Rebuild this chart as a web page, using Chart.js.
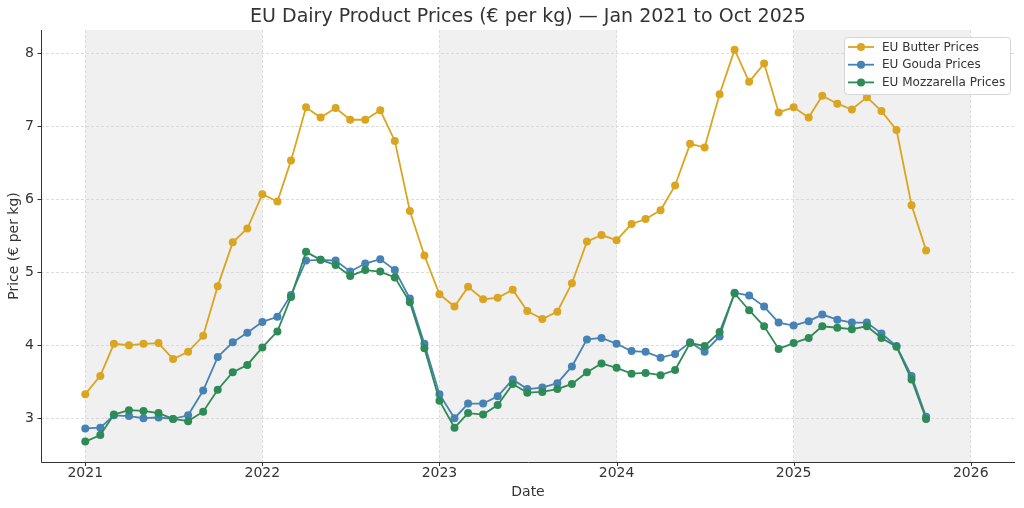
<!DOCTYPE html>
<html>
<head>
<meta charset="utf-8">
<script src="https://cdn.jsdelivr.net/npm/chart.js@4.4.1/dist/chart.umd.min.js"></script>
<style>
  html, body { margin: 0; padding: 0; background: #fff; }
  #wrap { width: 1024px; height: 508px; }
</style>
</head>
<body>
<div id="wrap"><canvas id="precios"></canvas></div>
<script>
// Meses (Jan 2021 .. Oct 2025)
const meses = [
  '2021-01','2021-02','2021-03','2021-04','2021-05','2021-06','2021-07','2021-08','2021-09','2021-10','2021-11','2021-12',
  '2022-01','2022-02','2022-03','2022-04','2022-05','2022-06','2022-07','2022-08','2022-09','2022-10','2022-11','2022-12',
  '2023-01','2023-02','2023-03','2023-04','2023-05','2023-06','2023-07','2023-08','2023-09','2023-10','2023-11','2023-12',
  '2024-01','2024-02','2024-03','2024-04','2024-05','2024-06','2024-07','2024-08','2024-09','2024-10','2024-11','2024-12',
  '2025-01','2025-02','2025-03','2025-04','2025-05','2025-06','2025-07','2025-08','2025-09','2025-10'
];

const butter = [
  3.33, 3.58, 4.02, 4.00, 4.02, 4.03, 3.81, 3.91, 4.13, 4.81, 5.41, 5.60,
  6.07, 5.97, 6.53, 7.26, 7.12, 7.25, 7.09, 7.09, 7.22, 6.80, 5.84, 5.23,
  4.70, 4.53, 4.80, 4.63, 4.65, 4.76, 4.47, 4.36, 4.46, 4.85, 5.42, 5.51,
  5.44, 5.66, 5.73, 5.85, 6.19, 6.76, 6.71, 7.44, 8.05, 7.61, 7.86, 7.19,
  7.26, 7.12, 7.42, 7.31, 7.23, 7.40, 7.21, 6.95, 5.92, 5.30
];
const gouda = [
  2.86, 2.87, 3.04, 3.03, 3.00, 3.01, 2.99, 3.04, 3.38, 3.84, 4.04, 4.17,
  4.32, 4.39, 4.69, 5.16, 5.17, 5.16, 5.01, 5.12, 5.18, 5.03, 4.64, 4.02,
  3.33, 3.00, 3.20, 3.20, 3.30, 3.53, 3.40, 3.42, 3.48, 3.71, 4.08, 4.10,
  4.02, 3.92, 3.91, 3.83, 3.88, 4.04, 3.91, 4.12, 4.72, 4.68, 4.53, 4.31,
  4.27, 4.33, 4.42, 4.35, 4.31, 4.31, 4.16, 3.99, 3.58, 3.02
];
const mozzarella = [
  2.68, 2.77, 3.05, 3.11, 3.10, 3.07, 2.99, 2.96, 3.09, 3.39, 3.63, 3.73,
  3.97, 4.19, 4.66, 5.28, 5.17, 5.10, 4.95, 5.03, 5.01, 4.93, 4.59, 3.96,
  3.24, 2.87, 3.07, 3.05, 3.18, 3.47, 3.35, 3.36, 3.40, 3.47, 3.63, 3.75,
  3.69, 3.61, 3.62, 3.59, 3.66, 4.03, 3.99, 4.18, 4.71, 4.48, 4.26, 3.95,
  4.03, 4.10, 4.26, 4.24, 4.22, 4.26, 4.10, 3.98, 3.53, 2.99
];

const yTicks = [3, 4, 5, 6, 7, 8];
const xTicks = [2021, 2022, 2023, 2024, 2025, 2026];
const bandasAnios = [2021, 2023, 2025];

const series = [
  { label: 'EU Butter Prices', data: butter, color: '#DAA520' },
  { label: 'EU Gouda Prices', data: gouda, color: '#4682B4' },
  { label: 'EU Mozzarella Prices', data: mozzarella, color: '#2E8B57' }
];

const FONT = "'DejaVu Sans', sans-serif";
const INK = '#333333';

// 'YYYY-MM' -> año decimal (como fechas de matplotlib)
function aAnio(s) {
  const [y, m] = s.split('-').map(Number);
  const ini = Date.UTC(y, 0, 1), fin = Date.UTC(y + 1, 0, 1);
  return y + (Date.UTC(y, m - 1, 1) - ini) / (fin - ini);
}

// Bandas grises, ejes, marcas y leyenda
const decoracion = {
  id: 'decoracion',
  beforeDraw(chart) {
    const { ctx, chartArea: a, scales: { x } } = chart;
    ctx.save();
    ctx.fillStyle = '#f0f0f0';
    bandasAnios.forEach(y0 => {
      const x0 = x.getPixelForValue(y0), x1 = x.getPixelForValue(y0 + 1);
      ctx.fillRect(x0, a.top, x1 - x0, a.bottom - a.top);
    });
    ctx.restore();
  },
  afterDraw(chart) {
    const { ctx, chartArea: a, scales: { x, y } } = chart;
    ctx.save();
    // titulo
    ctx.fillStyle = INK;
    ctx.font = '19px ' + FONT;
    ctx.textAlign = 'center';
    ctx.textBaseline = 'middle';
    ctx.fillText('EU Dairy Product Prices (€ per kg) — Jan 2021 to Oct 2025', (a.left + a.right) / 2, 17);

    // ejes
    ctx.strokeStyle = '#333';
    ctx.lineWidth = 1;
    ctx.beginPath();
    ctx.moveTo(a.left + 0.5, a.top);
    ctx.lineTo(a.left + 0.5, a.bottom + 0.5);
    ctx.lineTo(a.right, a.bottom + 0.5);
    yTicks.forEach(v => {
      const py = Math.round(y.getPixelForValue(v)) + 0.5;
      ctx.moveTo(a.left - 3.5, py); ctx.lineTo(a.left, py);
    });
    xTicks.forEach(v => {
      const px = Math.round(x.getPixelForValue(v)) + 0.5;
      ctx.moveTo(px, a.bottom); ctx.lineTo(px, a.bottom + 4);
    });
    ctx.stroke();

    // leyenda
    const lx = 844, ly = 37, lw = 166, lh = 57;
    ctx.fillStyle = 'rgba(255,255,255,0.85)';
    ctx.strokeStyle = '#d6d6d6';
    ctx.lineWidth = 1;
    ctx.beginPath();
    ctx.roundRect(lx + 0.5, ly + 0.5, lw, lh, 3);
    ctx.fill();
    ctx.stroke();
    ctx.font = '12px ' + FONT;
    ctx.textAlign = 'left';
    ctx.textBaseline = 'middle';
    series.forEach((s, i) => {
      const cy = ly + 10 + i * 17.7;
      ctx.strokeStyle = s.color;
      ctx.lineWidth = 1.8;
      ctx.beginPath();
      ctx.moveTo(lx + 4, cy); ctx.lineTo(lx + 30, cy);
      ctx.stroke();
      ctx.fillStyle = s.color;
      ctx.beginPath();
      ctx.arc(lx + 17, cy, 4, 0, Math.PI * 2);
      ctx.fill();
      ctx.fillStyle = INK;
      ctx.fillText(s.label, lx + 38, cy + 0.5);
    });
    ctx.restore();
  }
};

const ctx = document.getElementById('precios').getContext('2d');
new Chart(ctx, {
  type: 'line',
  data: {
    datasets: series.map((s, i) => ({
      label: s.label,
      data: s.data.map((v, k) => ({ x: aAnio(meses[k]), y: v })),
      borderColor: s.color,
      backgroundColor: s.color,
      borderWidth: 1.8,
      pointRadius: 4,
      pointBorderWidth: 0,
      pointHoverRadius: 4,
      tension: 0,
      order: series.length - 1 - i
    }))
  },
  options: {
    responsive: true,
    maintainAspectRatio: false,
    animation: false,
    events: [],
    layout: { padding: { top: 30, right: 9, left: 0, bottom: 0 } },
    plugins: {
      legend: { display: false },
      title: { display: false },
      tooltip: { enabled: false }
    },
    scales: {
      x: {
        type: 'linear',
        min: 2020.75,
        max: 2026.25,
        afterBuildTicks: s => { s.ticks = xTicks.map(v => ({ value: v })); },
        afterFit: s => { s.height = 46; },
        ticks: {
          color: INK,
          font: { family: FONT, size: 14 },
          padding: 3,
          maxRotation: 0,
          callback: v => String(v)
        },
        grid: { color: '#d4d4d4', lineWidth: 0.8, drawTicks: false },
        border: { display: false, dash: [3, 2] },
        title: {
          display: true,
          text: 'Date',
          color: INK,
          font: { family: FONT, size: 14 },
          padding: { top: 0, bottom: 7 }
        }
      },
      y: {
        min: 2.40,
        max: 8.32,
        afterBuildTicks: s => { s.ticks = yTicks.map(v => ({ value: v })); },
        afterFit: s => { s.width = 41; },
        ticks: {
          color: INK,
          font: { family: FONT, size: 14 },
          padding: 7,
          callback: v => String(v)
        },
        grid: { color: '#d4d4d4', lineWidth: 0.8, drawTicks: false },
        border: { display: false, dash: [3, 2] },
        title: {
          display: true,
          text: 'Price (€ per kg)',
          color: INK,
          font: { family: FONT, size: 14 },
          padding: { top: 6, bottom: 0 }
        }
      }
    }
  },
  plugins: [decoracion]
});
</script>
</body>
</html>
